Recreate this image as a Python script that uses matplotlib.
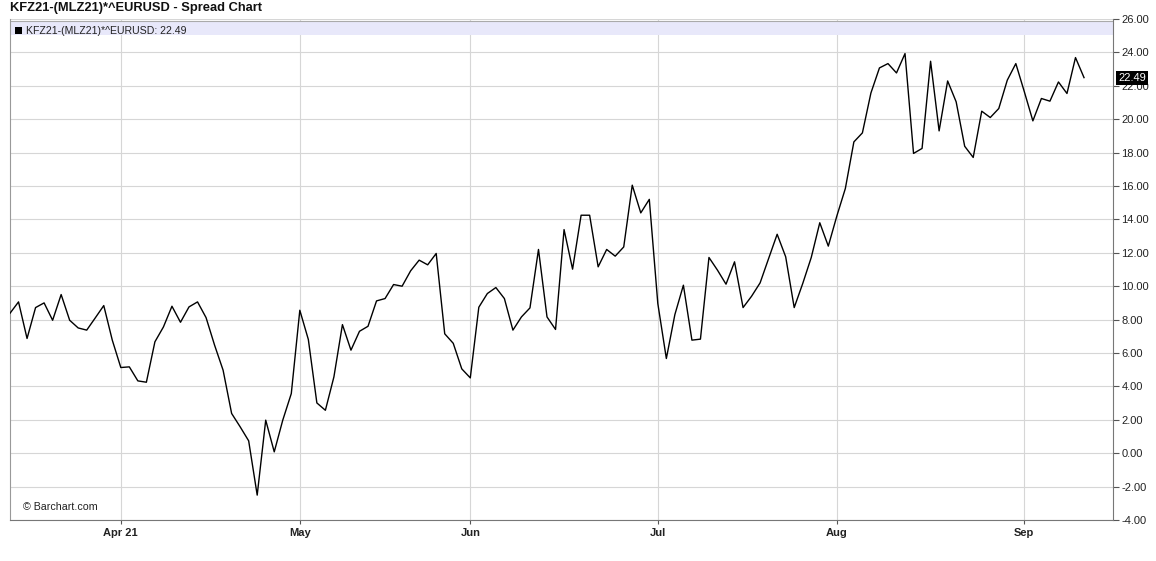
import numpy as np
import matplotlib
matplotlib.use("Agg")
import matplotlib.pyplot as plt
from matplotlib.patches import Rectangle

plt.rcParams['font.family'] = ['Liberation Sans', 'DejaVu Sans']

# Spread values, one per trading day (mid-March to mid-September 2021)
spread = [8.38, 9.06, 6.87, 8.72, 9.0, 7.96, 9.5, 7.96, 7.5, 7.37,
          8.1, 8.84, 6.77, 5.13, 5.17, 4.33, 4.25, 6.67, 7.56, 8.8,
          7.84, 8.76, 9.06, 8.12, 6.47, 4.97, 2.38, 1.58, 0.74, -2.51,
          1.98, 0.08, 1.98, 3.57, 8.56, 6.81, 3.01, 2.57, 4.57, 7.7,
          6.17, 7.3, 7.6, 9.12, 9.26, 10.1, 10.0, 10.92, 11.56, 11.28,
          11.96, 7.15, 6.58, 5.05, 4.51, 8.74, 9.56, 9.92, 9.26, 7.37,
          8.16, 8.7, 12.2, 8.16, 7.41, 13.39, 11.02, 14.25, 14.25, 11.16,
          12.2, 11.8, 12.35, 16.05, 14.39, 15.2, 8.96, 5.67, 8.3, 10.06,
          6.77, 6.83, 11.72, 10.96, 10.12, 11.46, 8.72, 9.4, 10.2, 11.66,
          13.11, 11.76, 8.72, 10.16, 11.72, 13.8, 12.4, 14.2, 15.85, 18.64,
          19.18, 21.57, 23.07, 23.33, 22.77, 23.93, 17.95, 18.25, 23.47, 19.3,
          22.29, 21.04, 18.38, 17.71, 20.48, 20.1, 20.64, 22.34, 23.33, 21.64,
          19.9, 21.24, 21.08, 22.23, 21.54, 23.69, 22.49]

month_labels = ['Apr 21', 'May', 'Jun', 'Jul', 'Aug', 'Sep']
month_idx = [13, 34, 54, 76, 97, 119]
y_ticks = np.arange(-4, 27, 2)

symbol = 'KFZ21-(MLZ21)*^EURUSD'
last = spread[-1]

fig = plt.figure(figsize=(11.56, 5.61), dpi=100)
ax = fig.add_axes([10/1156, 1-520/561, 1103/1156, 501/561])

x = np.arange(len(spread))
ax.plot(x, spread, color='black', lw=1.0, zorder=3)

ax.set_xlim(0, 129.4)
ax.set_ylim(-4, 26)

ax.set_xticks(month_idx)
ax.set_xticklabels(month_labels, fontsize=8, fontweight='bold', color='#222222')
ax.set_yticks(y_ticks)
ax.set_yticklabels(['%.2f' % v for v in y_ticks], fontsize=8, color='#222222')
ax.yaxis.tick_right()
ax.tick_params(axis='y', length=4, width=0.8, color='#555555', pad=2)
ax.tick_params(axis='x', length=3, width=0.8, color='#555555', pad=3)

ax.grid(True, color='#d6d6d6', lw=0.8, zorder=0)
ax.spines['top'].set_visible(False)
ax.spines['left'].set_color('#999999')
ax.spines['bottom'].set_color('#777777')
ax.spines['right'].set_color('#777777')

# legend header band
ax.add_patch(Rectangle((0, 25.04), 129.4, 0.84, facecolor='#e8e8fa',
                       edgecolor='none', zorder=2))
ax.axhline(25.88, color='#aaaaaa', lw=0.8, zorder=2)
ax.add_patch(Rectangle((0.0045, 0.970), 0.0062, 0.0135, transform=ax.transAxes,
                       facecolor='black', edgecolor='none', zorder=4))
ax.text(0.0145, 0.977, '%s: %.2f' % (symbol, last), transform=ax.transAxes,
        fontsize=7.6, va='center', ha='left', color='#222222', zorder=4)

# last value tag
ax.text(1.005, last, '%.2f' % last, transform=ax.get_yaxis_transform(),
        fontsize=8, color='white', va='center', ha='left',
        bbox=dict(facecolor='black', edgecolor='none', pad=1.5), zorder=5)

ax.text(0.012, 0.026, '\u00a9 Barchart.com', transform=ax.transAxes,
        fontsize=7.7, color='#222222', va='center', ha='left')

fig.text(10/1156, 1-8/561, symbol + ' - Spread Chart', fontsize=9.3,
         fontweight='bold', va='center', ha='left', color='#111111')

fig.savefig('out.png', dpi=100)
